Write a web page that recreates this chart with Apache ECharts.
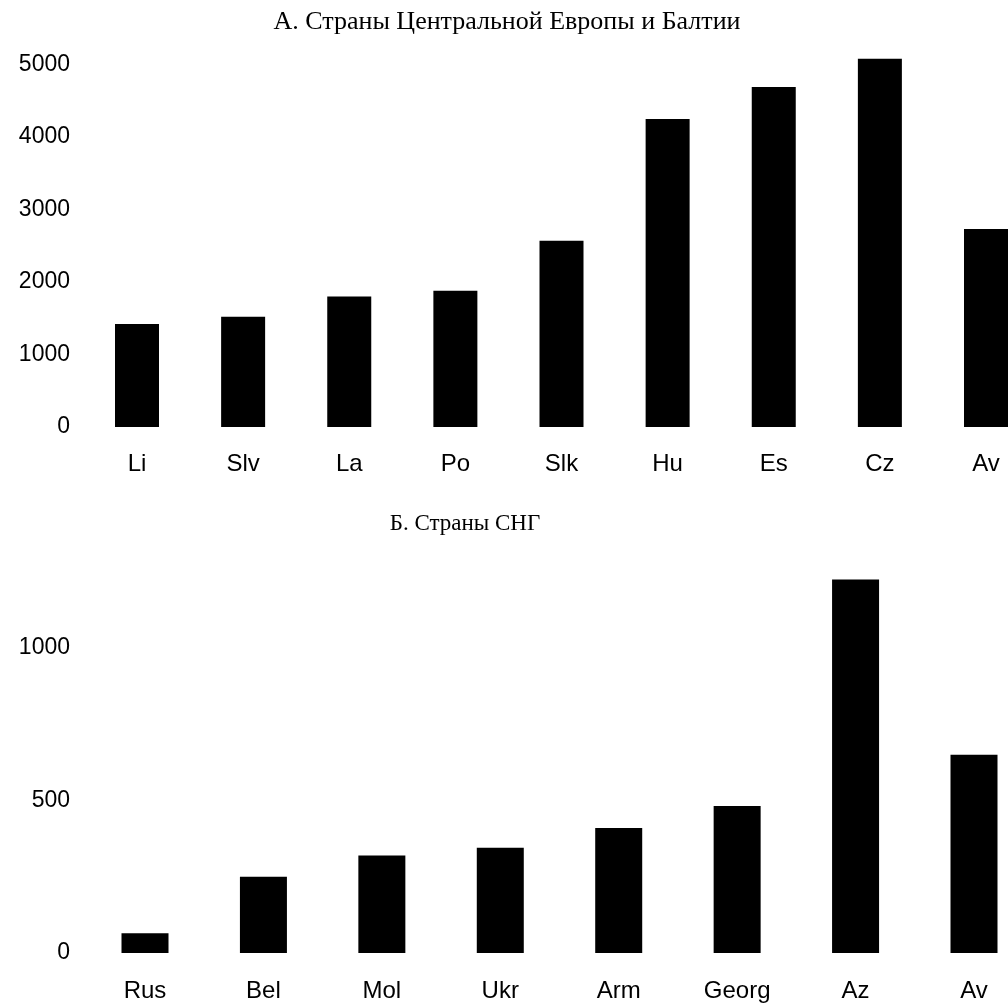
<!DOCTYPE html>
<html>
<head>
<meta charset="utf-8">
<script src="https://cdn.jsdelivr.net/npm/echarts@6/dist/echarts.min.js"></script>
<style>
html,body{margin:0;padding:0;background:#fff;}
#c{width:1008px;height:1003px;}
</style>
</head>
<body>
<div id="c"></div>
<script>
const titleA = "А. Страны Центральной Европы и Балтии";
const titleB = "Б. Страны СНГ";
const catsA = ["Li", "Slv", "La", "Po", "Slk", "Hu", "Es", "Cz", "Av"];
const valsA = [1420, 1520, 1800, 1880, 2570, 4250, 4690, 5080, 2730];
const ticksA = [0, 1000, 2000, 3000, 4000, 5000];
const catsB = ["Rus", "Bel", "Mol", "Ukr", "Arm", "Georg", "Az", "Av"];
const valsB = [65, 250, 320, 345, 410, 482, 1225, 650];
const ticksB = [0, 500, 1000];

const chart = echarts.init(document.getElementById('c'), null, {renderer: 'canvas'});
const sans = 'Liberation Sans, Arial, sans-serif';
const serif = 'Liberation Serif, Times New Roman, serif';
function fmt(list){ return v => list.indexOf(v) >= 0 ? String(v) : ''; }
chart.setOption({
  backgroundColor: '#fff',
  animation: false,
  title: [
    {text: titleA, left: 502, top: 4, textAlign: 'center',
     textStyle: {fontFamily: serif, fontWeight: 'normal', fontSize: 26, color: '#000'}},
    {text: titleB, left: 460, top: 507, textAlign: 'center',
     textStyle: {fontFamily: serif, fontWeight: 'normal', fontSize: 23, color: '#000'}}
  ],
  grid: [
    {left: 137, width: 849, top: 50, height: 377, containLabel: false},
    {left: 145, width: 829, top: 495.5, height: 457.5, containLabel: false}
  ],
  xAxis: [
    {type: 'category', gridIndex: 0, data: catsA, boundaryGap: false,
     axisLine: {show: false}, axisTick: {show: false},
     axisLabel: {margin: 25, fontSize: 24, fontFamily: sans, color: '#000', interval: 0}},
    {type: 'category', gridIndex: 1, data: catsB, boundaryGap: false,
     axisLine: {show: false}, axisTick: {show: false},
     axisLabel: {margin: 26, fontSize: 24, fontFamily: sans, color: '#000', interval: 0}}
  ],
  yAxis: [
    {type: 'value', gridIndex: 0, min: 0, max: 5200, interval: 1000,
     axisLine: {show: false}, axisTick: {show: false}, splitLine: {show: false},
     axisLabel: {margin: 67, fontSize: 23, fontFamily: sans, color: '#000', padding: [6, 0, 0, 0], showMaxLabel: false, formatter: fmt(ticksA)}},
    {type: 'value', gridIndex: 1, min: 0, max: 1500, interval: 500,
     axisLine: {show: false}, axisTick: {show: false}, splitLine: {show: false},
     axisLabel: {margin: 75, fontSize: 23, fontFamily: sans, color: '#000', padding: [4, 0, 0, 0], showMaxLabel: false, formatter: fmt(ticksB)}}
  ],
  series: [
    {type: 'bar', xAxisIndex: 0, yAxisIndex: 0, data: valsA, barWidth: 44, clip: false,
     itemStyle: {color: '#000'}},
    {type: 'bar', xAxisIndex: 1, yAxisIndex: 1, data: valsB, barWidth: 47, clip: false,
     itemStyle: {color: '#000'}}
  ]
});
</script>
</body>
</html>
